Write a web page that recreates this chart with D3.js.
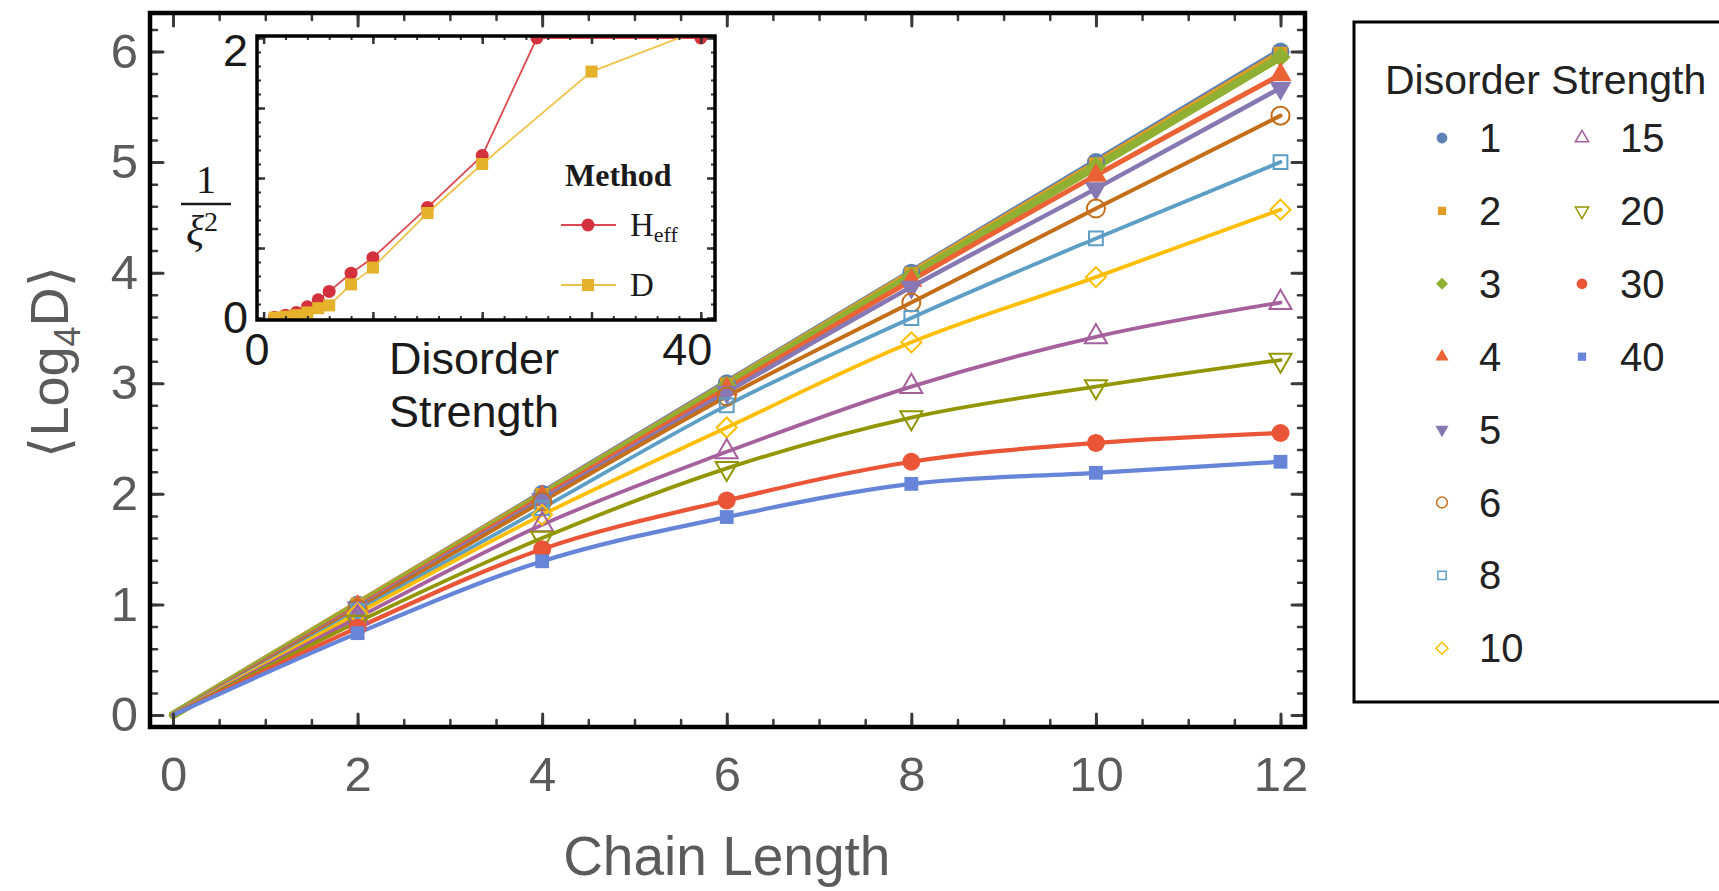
<!DOCTYPE html>
<html>
<head>
<meta charset="utf-8">
<script src="https://cdn.jsdelivr.net/npm/d3@7"></script>
<style>
  html, body { margin: 0; padding: 0; background: #fff; }
  svg { display: block; font-family: "Liberation Sans", Arial, Helvetica, sans-serif; }
</style>
</head>
<body>
<svg id="chart" width="1719" height="891"></svg>
<script>
// ---- main panel data: <Log4 D> versus chain length, one series per disorder strength ----
const chainLength = [0, 2, 4, 6, 8, 10, 12];
const disorderStrengths = [1, 2, 3, 4, 5, 6, 8, 10, 15, 20, 30, 40];
const logD_W1  = [0, 1.00, 2.00, 3.00, 4.00, 5.00, 6.00];
const logD_W2  = [0, 1.00, 1.99, 2.99, 3.99, 4.98, 5.98];
const logD_W3  = [0, 0.99, 1.98, 2.98, 3.97, 4.96, 5.95];
const logD_W4  = [0, 0.98, 1.97, 2.95, 3.93, 4.88, 5.79];
const logD_W5  = [0, 0.97, 1.95, 2.92, 3.87, 4.76, 5.67];
const logD_W6  = [0, 0.96, 1.93, 2.88, 3.73, 4.58, 5.42];
const logD_W8  = [0, 0.94, 1.87, 2.80, 3.59, 4.31, 5.00];
const logD_W10 = [0, 0.92, 1.81, 2.60, 3.37, 3.96, 4.57];
const logD_W15 = [0, 0.88, 1.72, 2.38, 2.97, 3.42, 3.73];
const logD_W20 = [0, 0.84, 1.60, 2.23, 2.69, 2.97, 3.21];
const logD_W30 = [0, 0.79, 1.50, 1.94, 2.29, 2.46, 2.55];
const logD_W40 = [0, 0.74, 1.39, 1.79, 2.09, 2.19, 2.29];
const xTickLabels = [0, 2, 4, 6, 8, 10, 12];
const yTickLabels = [0, 1, 2, 3, 4, 5, 6];

// ---- inset data: inverse squared localisation length versus disorder strength ----
const insetW_Heff = [1, 2, 3, 4, 5, 6, 8, 10, 15, 20, 25, 40];
const invXi2_Heff = [0.005, 0.02, 0.04, 0.08, 0.13, 0.19, 0.32, 0.43, 0.79, 1.16, 2.00, 2.00];
const insetW_D    = [1, 2, 3, 4, 5, 6, 8, 10, 15, 20, 30, 40];
const invXi2_D    = [0.003, 0.01, 0.02, 0.04, 0.07, 0.09, 0.24, 0.36, 0.75, 1.10, 1.76, 2.06];
const insetXTickLabels = [0, 40];
const insetYTickLabels = [0, 2];

const seriesValues = [logD_W1, logD_W2, logD_W3, logD_W4, logD_W5, logD_W6,
                      logD_W8, logD_W10, logD_W15, logD_W20, logD_W30, logD_W40];

// Mathematica-style default palette and marker set
const palette = ["#5e81b5", "#e19c24", "#8fb032", "#eb6235", "#8778b3", "#c56e1a",
                 "#5d9ec7", "#ffbf00", "#a5609d", "#929600", "#e95536", "#6685d9"];
const shapes = ["circle", "square", "diamond", "tri", "triDown", "circle",
                "square", "diamond", "tri", "triDown", "circle", "square"];
const filled = [true, true, true, true, true, false, false, false, false, false, true, true];
const lineWidths = [8, 8, 8, 5, 4.5, 4, 3.8, 3.8, 3.8, 3.8, 4.2, 4.2];

const sans = "'Liberation Sans', Arial, Helvetica, sans-serif";
const serif = "'Liberation Serif', 'Times New Roman', Times, serif";

const svg = d3.select("#chart");

function symbolPath(shape, scale) {
  const s = scale;
  switch (shape) {
    case "circle":  return { d: d3.symbol().type(d3.symbolCircle).size(254 * s)(), rot: 0 };
    case "square":  return { d: d3.symbol().type(d3.symbolSquare).size(190 * s)(), rot: 0 };
    case "diamond": return { d: d3.symbol().type(d3.symbolSquare).size(200 * s)(), rot: 45 };
    case "tri":     return { d: d3.symbol().type(d3.symbolTriangle).size(210 * s)(), rot: 0 };
    case "triDown": return { d: d3.symbol().type(d3.symbolTriangle).size(210 * s)(), rot: 180 };
  }
}

function drawMarker(g, i, cx, cy, scale, strokeW) {
  const sp = symbolPath(shapes[i], scale);
  g.append("path")
    .attr("d", sp.d)
    .attr("transform", `translate(${cx},${cy}) rotate(${sp.rot})`)
    .attr("fill", filled[i] ? palette[i] : "none")
    .attr("stroke", palette[i])
    .attr("stroke-width", filled[i] ? 0 : strokeW);
}

// ================= main panel =================
const frame = { left: 150, right: 1305, top: 13, bottom: 727 };
const x = d3.scaleLinear().domain([0, 12]).range([173, 1280.5]);
const y = d3.scaleLinear().domain([0, 6]).range([715, 51.5]);

const defs = svg.append("defs");
defs.append("clipPath").attr("id", "mainClip")
  .append("rect").attr("x", frame.left).attr("y", frame.top)
  .attr("width", frame.right - frame.left).attr("height", frame.bottom - frame.top);

const plot = svg.append("g").attr("clip-path", "url(#mainClip)");
const line = d3.line().x(d => x(d[0])).y(d => y(d[1])).curve(d3.curveMonotoneX);

seriesValues.forEach((vals, i) => {
  const pts = chainLength.map((L, k) => [L, vals[k]]);
  plot.append("path")
    .attr("d", line(pts))
    .attr("fill", "none")
    .attr("stroke", palette[i])
    .attr("stroke-width", lineWidths[i])
    .attr("stroke-linejoin", "round")
    .attr("stroke-linecap", "round");
});

seriesValues.forEach((vals, i) => {
  const g = plot.append("g");
  chainLength.forEach((L, k) => {
    if (L === 0) return;
    drawMarker(g, i, x(L), y(vals[k]), 1, 2);
  });
});

// ticks on all four sides, pointing inward
const xMinor = d3.range(0, 12.01, 0.5);
const yMinor = d3.range(0, 6.21, 0.2);
function tickAxis(axis, tx, ty, w) {
  const g = svg.append("g").attr("transform", `translate(${tx},${ty})`).call(axis);
  g.select(".domain").remove();
  g.selectAll("line").attr("stroke", "#3a3a3a").attr("stroke-linecap", "round").attr("stroke-width", w);
}
tickAxis(d3.axisBottom(x).tickValues(xMinor).tickSize(-7).tickFormat(""), 0, frame.bottom, 2.5);
tickAxis(d3.axisBottom(x).tickValues(xTickLabels).tickSize(-13).tickFormat(""), 0, frame.bottom, 3);
tickAxis(d3.axisTop(x).tickValues(xMinor).tickSize(-7).tickFormat(""), 0, frame.top, 2.5);
tickAxis(d3.axisTop(x).tickValues(xTickLabels).tickSize(-13).tickFormat(""), 0, frame.top, 3);
tickAxis(d3.axisLeft(y).tickValues(yMinor).tickSize(-7).tickFormat(""), frame.left, 0, 2.5);
tickAxis(d3.axisLeft(y).tickValues(yTickLabels).tickSize(-13).tickFormat(""), frame.left, 0, 3);
tickAxis(d3.axisRight(y).tickValues(yMinor).tickSize(-7).tickFormat(""), frame.right, 0, 2.5);
tickAxis(d3.axisRight(y).tickValues(yTickLabels).tickSize(-13).tickFormat(""), frame.right, 0, 3);

svg.append("rect")
  .attr("x", frame.left).attr("y", frame.top)
  .attr("width", frame.right - frame.left).attr("height", frame.bottom - frame.top)
  .attr("fill", "none").attr("stroke", "#000").attr("stroke-width", 4.5);

// tick labels
const labelColor = "#5b5b5b";
const xl = svg.append("g").attr("transform", `translate(0,${frame.bottom})`)
  .call(d3.axisBottom(x).tickValues(xTickLabels).tickSize(0).tickPadding(29).tickFormat(d3.format("d")));
xl.select(".domain").remove();
xl.selectAll("text").style("font-size", "49px").style("font-family", sans).attr("fill", labelColor);

const yl = svg.append("g").attr("transform", `translate(${frame.left},0)`)
  .call(d3.axisLeft(y).tickValues(yTickLabels).tickSize(0).tickPadding(12).tickFormat(d3.format("d")));
yl.select(".domain").remove();
yl.selectAll("text").style("font-size", "49px").style("font-family", sans).attr("fill", labelColor);

// axis titles
svg.append("text")
  .attr("x", (x(0) + x(12)) / 2).attr("y", 875)
  .attr("text-anchor", "middle").style("font-size", "55px").style("font-family", sans).attr("fill", labelColor)
  .text("Chain Length");

const yTitle = svg.append("text")
  .attr("transform", "translate(68,362) rotate(-90)")
  .attr("text-anchor", "middle").style("font-size", "54px").style("font-family", sans).attr("fill", labelColor);
yTitle.append("tspan").style("font-family", "'DejaVu Sans', sans-serif").attr("font-weight", 200).text("\u27E8");
yTitle.append("tspan").text("Log");
yTitle.append("tspan").style("font-size", "36px").attr("dy", 12).text("4");
yTitle.append("tspan").attr("dy", -12).text("D");
yTitle.append("tspan").style("font-family", "'DejaVu Sans', sans-serif").attr("font-weight", 200).text("\u27E9");

// ================= inset =================
const inFrame = { left: 257, right: 715, top: 36, bottom: 320 };
const xi = d3.scaleLinear().domain([0, 40]).range([263.6, 700.8]);
const yi = d3.scaleLinear().domain([0, 2]).range([318, 38]);

svg.append("rect")
  .attr("x", inFrame.left).attr("y", inFrame.top)
  .attr("width", inFrame.right - inFrame.left).attr("height", inFrame.bottom - inFrame.top)
  .attr("fill", "#fff");

defs.append("clipPath").attr("id", "insetClip")
  .append("rect").attr("x", inFrame.left).attr("y", inFrame.top)
  .attr("width", inFrame.right - inFrame.left).attr("height", inFrame.bottom - inFrame.top);

const inset = svg.append("g").attr("clip-path", "url(#insetClip)");
const insetLine = d3.line().x(d => xi(d[0])).y(d => yi(d[1]));
const heffColor = "#d3313b", heffLine = "#dc4a4f";
const dColor = "#e6b22c", dLine = "#f0c34a";

inset.append("path")
  .attr("d", insetLine(insetW_Heff.map((w, k) => [w, invXi2_Heff[k]])))
  .attr("fill", "none").attr("stroke", heffLine).attr("stroke-width", 1.8);
inset.selectAll("circle.heff").data(insetW_Heff).enter().append("circle")
  .attr("cx", w => xi(w)).attr("cy", (w, k) => yi(invXi2_Heff[k])).attr("r", 6.5)
  .attr("fill", heffColor);

inset.append("path")
  .attr("d", insetLine(insetW_D.map((w, k) => [w, invXi2_D[k]])))
  .attr("fill", "none").attr("stroke", dLine).attr("stroke-width", 1.8);
inset.selectAll("rect.dpt").data(insetW_D).enter().append("rect")
  .attr("x", w => xi(w) - 6).attr("y", (w, k) => yi(invXi2_D[k]) - 6)
  .attr("width", 12).attr("height", 12).attr("fill", dColor);

// inset ticks
function insetTicks(axis, tx, ty, w) {
  const g = svg.append("g").attr("transform", `translate(${tx},${ty})`).call(axis);
  g.select(".domain").remove();
  g.selectAll("line").attr("stroke", "#333").attr("stroke-width", w);
}
const xiMinor = d3.range(0, 40.1, 2);
const xiMajor = d3.range(0, 40.1, 10);
const yiMinor = d3.range(0, 2.01, 0.1);
const yiMajor = d3.range(0, 2.01, 0.5);
insetTicks(d3.axisBottom(xi).tickValues(xiMinor).tickSize(-4).tickFormat(""), 0, inFrame.bottom, 2);
insetTicks(d3.axisBottom(xi).tickValues(xiMajor).tickSize(-8).tickFormat(""), 0, inFrame.bottom, 2.5);
insetTicks(d3.axisTop(xi).tickValues(xiMinor).tickSize(-4).tickFormat(""), 0, inFrame.top, 2);
insetTicks(d3.axisTop(xi).tickValues(xiMajor).tickSize(-8).tickFormat(""), 0, inFrame.top, 2.5);
insetTicks(d3.axisLeft(yi).tickValues(yiMinor).tickSize(-4).tickFormat(""), inFrame.left, 0, 2);
insetTicks(d3.axisLeft(yi).tickValues(yiMajor).tickSize(-8).tickFormat(""), inFrame.left, 0, 2.5);
insetTicks(d3.axisRight(yi).tickValues(yiMinor).tickSize(-4).tickFormat(""), inFrame.right, 0, 2);
insetTicks(d3.axisRight(yi).tickValues(yiMajor).tickSize(-8).tickFormat(""), inFrame.right, 0, 2.5);

svg.append("rect")
  .attr("x", inFrame.left).attr("y", inFrame.top)
  .attr("width", inFrame.right - inFrame.left).attr("height", inFrame.bottom - inFrame.top)
  .attr("fill", "none").attr("stroke", "#000").attr("stroke-width", 3.5);

// inset tick labels
const xil = svg.append("g").attr("transform", `translate(0,${inFrame.bottom})`)
  .call(d3.axisBottom(xi).tickValues(insetXTickLabels).tickSize(0).tickPadding(13).tickFormat(d3.format("d")));
xil.select(".domain").remove();
xil.selectAll("text").style("font-size", "45px").style("font-family", sans).attr("fill", "#1a1a1a");
xil.selectAll(".tick").filter(d => d === 40).select("text").attr("dx", -14);
xil.selectAll(".tick").filter(d => d === 0).select("text").attr("dx", -7);

const yil = svg.append("g").attr("transform", `translate(${inFrame.left},0)`)
  .call(d3.axisLeft(yi).tickValues(insetYTickLabels).tickSize(0).tickPadding(9).tickFormat(d3.format("d")));
yil.select(".domain").remove();
yil.selectAll("text").style("font-size", "45px").style("font-family", sans).attr("fill", "#1a1a1a");
yil.selectAll(".tick").filter(d => d === 2).select("text").attr("dy", "0.62em");

// inset axis titles
const inXTitle = svg.append("text").attr("text-anchor", "middle")
  .style("font-size", "45px").style("font-family", sans).attr("fill", "#1a1a1a");
inXTitle.append("tspan").attr("x", 474).attr("y", 374).text("Disorder");
inXTitle.append("tspan").attr("x", 474).attr("y", 427).text("Strength");

// 1 / xi^2 fraction
svg.append("text").attr("x", 206).attr("y", 193).attr("text-anchor", "middle")
  .style("font-family", serif).style("font-size", "40px").attr("fill", "#1a1a1a").text("1");
svg.append("line").attr("x1", 181).attr("x2", 231).attr("y1", 204).attr("y2", 204)
  .attr("stroke", "#1a1a1a").attr("stroke-width", 2.5);
const xiLabel = svg.append("text").attr("x", 202).attr("y", 245).attr("text-anchor", "middle")
  .style("font-family", serif).style("font-size", "42px").attr("fill", "#1a1a1a");
xiLabel.append("tspan").style("font-style", "italic").text("\u03BE");
xiLabel.append("tspan").style("font-size", "28px").attr("dy", -14).text("2");

// inset legend
svg.append("text").attr("x", 565).attr("y", 186)
  .style("font-family", serif).style("font-weight", "bold").style("font-size", "32px").attr("fill", "#1a1a1a")
  .text("Method");
const methods = [
  { name: "H", sub: "eff", y: 225, color: heffColor, lineColor: heffLine, mark: "circle" },
  { name: "D", sub: "", y: 285, color: dColor, lineColor: dLine, mark: "square" }
];
methods.forEach(m => {
  svg.append("line").attr("x1", 561).attr("x2", 616).attr("y1", m.y).attr("y2", m.y)
    .attr("stroke", m.lineColor).attr("stroke-width", 2);
  if (m.mark === "circle") {
    svg.append("circle").attr("cx", 588).attr("cy", m.y).attr("r", 6.5).attr("fill", m.color);
  } else {
    svg.append("rect").attr("x", 582).attr("y", m.y - 6).attr("width", 12).attr("height", 12).attr("fill", m.color);
  }
  const t = svg.append("text").attr("x", 630).attr("y", m.y + 11)
    .style("font-family", serif).style("font-size", "33px").attr("fill", "#1a1a1a");
  t.append("tspan").text(m.name);
  if (m.sub) t.append("tspan").style("font-size", "22px").attr("dy", 6).text(m.sub);
});

// ================= legend =================
svg.append("rect").attr("x", 1354).attr("y", 22).attr("width", 420).attr("height", 680)
  .attr("fill", "none").attr("stroke", "#000").attr("stroke-width", 3);
svg.append("text").attr("x", 1385).attr("y", 94)
  .style("font-size", "41px").style("font-family", sans).attr("fill", "#222").text("Disorder Strength");

const legend = svg.append("g");
disorderStrengths.forEach((w, i) => {
  const col = i < 8 ? 0 : 1;
  const row = i < 8 ? i : i - 8;
  const cy = 138 + row * 72.9;
  const mx = col === 0 ? 1442 : 1582;
  const tx = col === 0 ? 1479 : 1620;
  drawMarker(legend, i, mx, cy, 0.36, 1.5);
  legend.append("text").attr("x", tx).attr("y", cy + 14)
    .style("font-size", "40px").style("font-family", sans).attr("fill", "#222").text(w);
});
</script>
</body>
</html>
